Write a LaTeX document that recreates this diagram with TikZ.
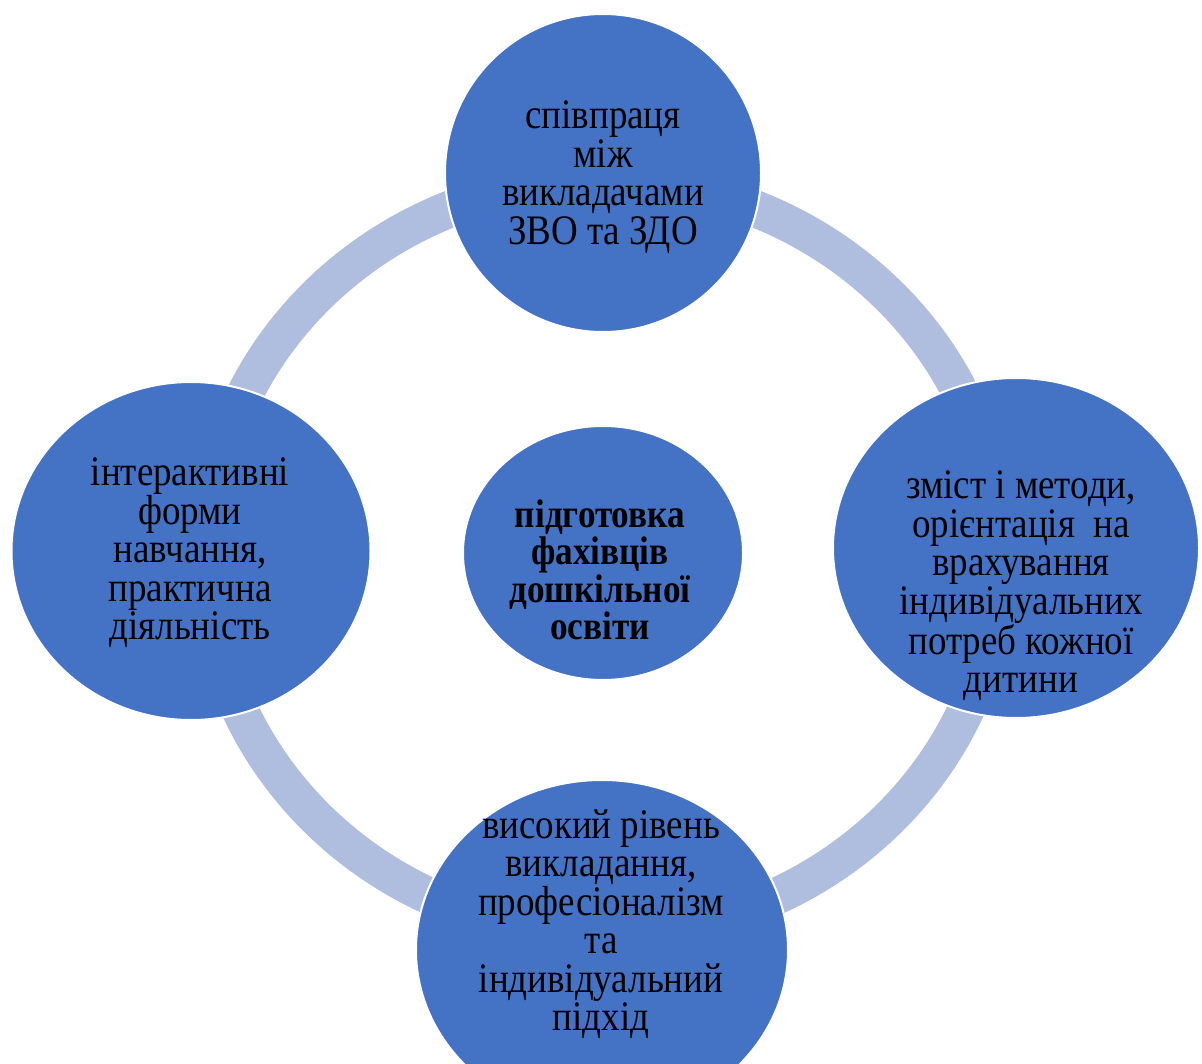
\documentclass[tikz,border=0pt]{standalone}
\usepackage{fontspec}
\setmainfont{Liberation Serif}[FakeStretch=0.88]
\usetikzlibrary{shapes.geometric}
\definecolor{nodeblue}{HTML}{4472C4}
\definecolor{ringblue}{HTML}{AFBDDF}
\begin{document}
\begin{tikzpicture}[x=1pt,y=-1pt,
  bubble/.style={ellipse, fill=nodeblue, draw=white, line width=2pt, inner sep=0pt},
  txt/.style={align=center, font=\fontsize{42}{38.5}\selectfont, text=black, inner sep=0pt},
  ctxt/.style={align=center, font=\fontsize{40}{37.5}\selectfont\bfseries, text=black, inner sep=0pt}]
\useasboundingbox (0,0) rectangle (1202,1064);
\fill[white] (0,0) rectangle (1202,1064);
\clip (0,0) rectangle (1202,1064);
% ring
\draw[ringblue, line width=37pt] (603,557) ellipse [x radius=397pt, y radius=377pt];
% bubbles
\node[bubble, minimum width=316pt, minimum height=318pt] (top) at (603,173) {};
\node[bubble, minimum width=366pt, minimum height=340pt] (right) at (1016,548) {};
\node[bubble, minimum width=359pt, minimum height=338pt] (left) at (191,551) {};
\node[bubble, minimum width=372pt, minimum height=340pt] (bottom) at (602,950) {};
\node[bubble, minimum width=280pt, minimum height=254pt] (center) at (603,553) {};
% texts
\node[txt] (ttop) at (603,177) {співпраця\\між\\викладачами\\ЗВО та ЗДО};
\node[txt] (tright) at (1021,586) {зміст і методи,\\орієнтація\ \ на\\врахування\\індивідуальних\\потреб кожної\\дитини};
\node[txt] (tleft) at (190,553) {інтерактивні\\форми\\навчання,\\практична\\діяльність};
\node[txt] (tbottom) at (601,924) {високий рівень\\викладання,\\професіоналізм\\та\\індивідуальний\\підхід};
\node[ctxt] (tcenter) at (600,570) {підготовка\\фахівців\\дошкільної\\освіти};
\end{tikzpicture}
\end{document}
